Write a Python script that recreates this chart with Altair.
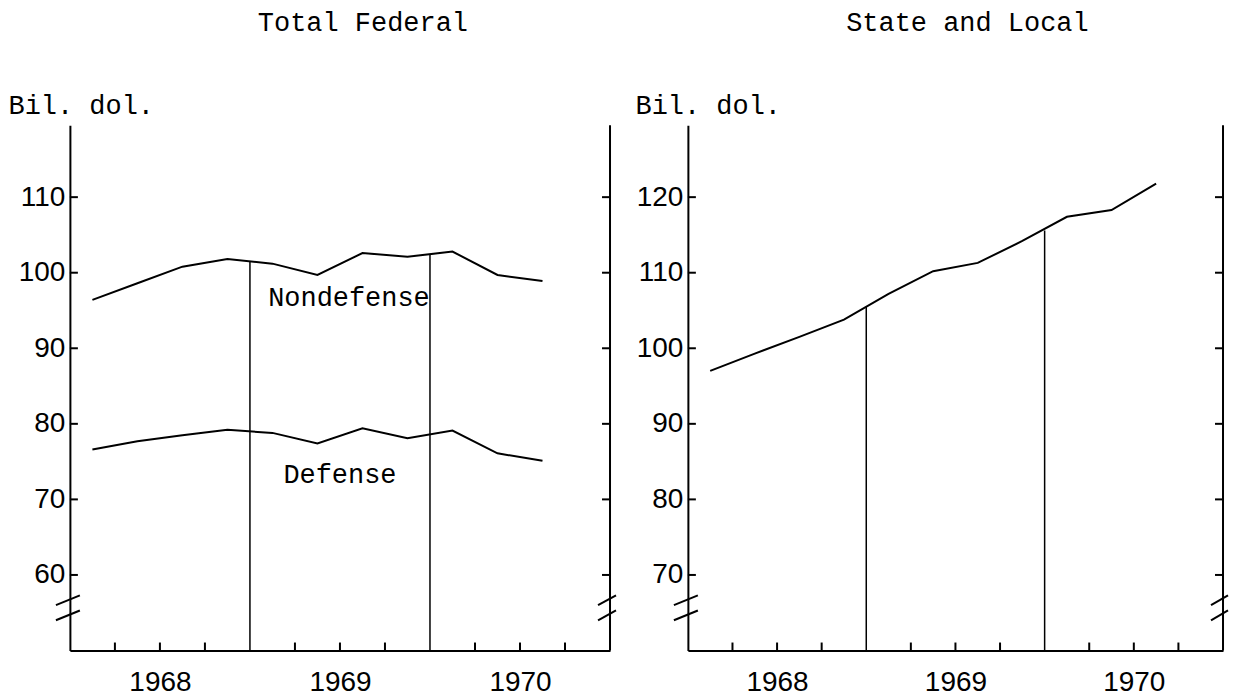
import altair as alt
import pandas as pd

# ---- data (quarterly, billions of dollars, SAAR) ----
quarters = [1968.125, 1968.375, 1968.625, 1968.875,
            1969.125, 1969.375, 1969.625, 1969.875,
            1970.125, 1970.375, 1970.625]
total_federal = [96.4, 98.6, 100.8, 101.8, 101.2, 99.7, 102.6, 102.1, 102.8, 99.7, 98.9]
defense = [76.6, 77.7, 78.5, 79.2, 78.8, 77.4, 79.4, 78.1, 79.1, 76.1, 75.1]
state_local = [97.0, 99.3, 101.5, 103.8, 107.2, 110.2, 111.3, 114.2, 117.4, 118.3, 121.8]

year_label_pos = [1968.5, 1969.5, 1970.5]
quarter_ticks = [1968.25, 1968.5, 1968.75, 1969.25, 1969.5, 1969.75, 1970.25, 1970.5, 1970.75]
year_bounds = [1969.0, 1970.0]
fed_bound_tops = [101.5, 102.4]
sl_bound_tops = [105.5, 115.6]

fed_yticks = [60, 70, 80, 90, 100, 110]
sl_yticks = [70, 80, 90, 100, 110, 120]
fed_domain = [50, 119.5]
sl_domain = [60, 129.5]
fed_axis_breaks = [54.0, 56.0]
sl_axis_breaks = [64.0, 66.0]

fed_labels = ["Nondefense", "Defense"]
fed_label_x = [1969.55, 1969.5]
fed_label_y = [96.7, 73.2]

MONO = "Liberation Mono"
NUM = "Liberation Sans"
H = 526


def panel(title, dx, W, ydom, yticks, series, bound_tops, axis_breaks, title_x,
          right_break_ext, labels=None):
    xs = alt.Scale(domain=[1968, 1971], nice=False, zero=False)
    ys = alt.Scale(domain=ydom, nice=False, zero=False)
    xax = alt.Axis(values=year_label_pos, labelExpr="floor(datum.value)", ticks=False,
                   grid=False, domainColor="black", domainWidth=2, labelFont=NUM,
                   labelFontSize=28, labelColor="black", labelPadding=18, title=None,
                   labelFlush=False)
    yax = alt.Axis(values=yticks, ticks=False, grid=False, domainColor="black",
                   domainWidth=2, labelFont=NUM, labelFontSize=28, labelColor="black",
                   labelPadding=5, title="Bil. dol.", titleAngle=0, titleX=title_x, titleY=-20,
                   titleAlign="left", titleBaseline="middle", titleFont=MONO,
                   titleFontSize=27, titleFontWeight="normal", titleColor="black")

    def X(f):
        return alt.X(f, type="quantitative", scale=xs, axis=xax)

    def Y(f):
        return alt.Y(f, type="quantitative", scale=ys, axis=yax)

    rows = []
    for name, vals in series.items():
        for q, v in zip(quarters, vals):
            rows.append({"q": q, "v": v, "s": name})
    line_df = pd.DataFrame(rows)
    vdf = pd.DataFrame({"x": year_bounds, "top": bound_tops})
    ytdf = pd.DataFrame({"v": yticks})
    qdf = pd.DataFrame({"q": quarter_ticks})
    bdf = pd.DataFrame({"b": axis_breaks, "b2": [b + 1.3 for b in axis_breaks]})
    one = pd.DataFrame({"k": [0]})

    layers = [
        alt.Chart(line_df).mark_line(color="black", strokeWidth=2).encode(
            x=X("q"), y=Y("v"), detail="s:N"),
        alt.Chart(vdf).mark_rule(color="black", strokeWidth=1.5).encode(
            x=X("x"), y=Y("top"), y2=alt.value(H)),
        alt.Chart(ytdf).mark_rule(color="black", strokeWidth=2).encode(
            y=Y("v"), x=alt.value(0), x2=alt.value(8)),
        alt.Chart(ytdf).mark_rule(color="black", strokeWidth=2).encode(
            y=Y("v"), x=alt.value(W - 8), x2=alt.value(W)),
        alt.Chart(one).mark_rule(color="black", strokeWidth=2).encode(
            x=alt.value(W), y=alt.value(0), y2=alt.value(H)),
        alt.Chart(qdf).mark_rule(color="black", strokeWidth=2).encode(
            x=X("q"), y=alt.value(H - 8), y2=alt.value(H)),
        alt.Chart(bdf).mark_rule(color="black", strokeWidth=2).encode(
            y=Y("b"), y2="b2", x=alt.value(-14), x2=alt.value(10)),
        alt.Chart(bdf).mark_rule(color="black", strokeWidth=2).encode(
            y=Y("b"), y2="b2", x=alt.value(W - 12), x2=alt.value(W + right_break_ext)),
    ]
    if labels is not None:
        ldf = pd.DataFrame({"t": labels[0], "lx": labels[1], "ly": labels[2]})
        layers.append(alt.Chart(ldf).mark_text(font=MONO, fontSize=27, color="black").encode(
            x=X("lx"), y=Y("ly"), text="t:N"))

    return alt.layer(*layers).properties(
        width=W, height=H,
        title=alt.TitleParams(title, font=MONO, fontSize=27, fontWeight="normal",
                              color="black", anchor="middle", frame="group", offset=55, dx=dx),
    )


left = panel("Total Federal", 23, 541, fed_domain, fed_yticks,
             {"Total": total_federal, "Defense": defense}, fed_bound_tops, fed_axis_breaks,
             -62, 6, labels=(fed_labels, fed_label_x, fed_label_y))
right = panel("State and Local", 12, 536, sl_domain, sl_yticks,
              {"State and Local": state_local}, sl_bound_tops, sl_axis_breaks,
              -53, 5)

chart = alt.hconcat(left, right, spacing=18).properties(
    padding={"left": 0, "top": 0, "right": 0, "bottom": 0},
    background="white",
).configure_view(stroke=None)

chart.save("out.html", embed_options={"renderer": "svg", "actions": False})
